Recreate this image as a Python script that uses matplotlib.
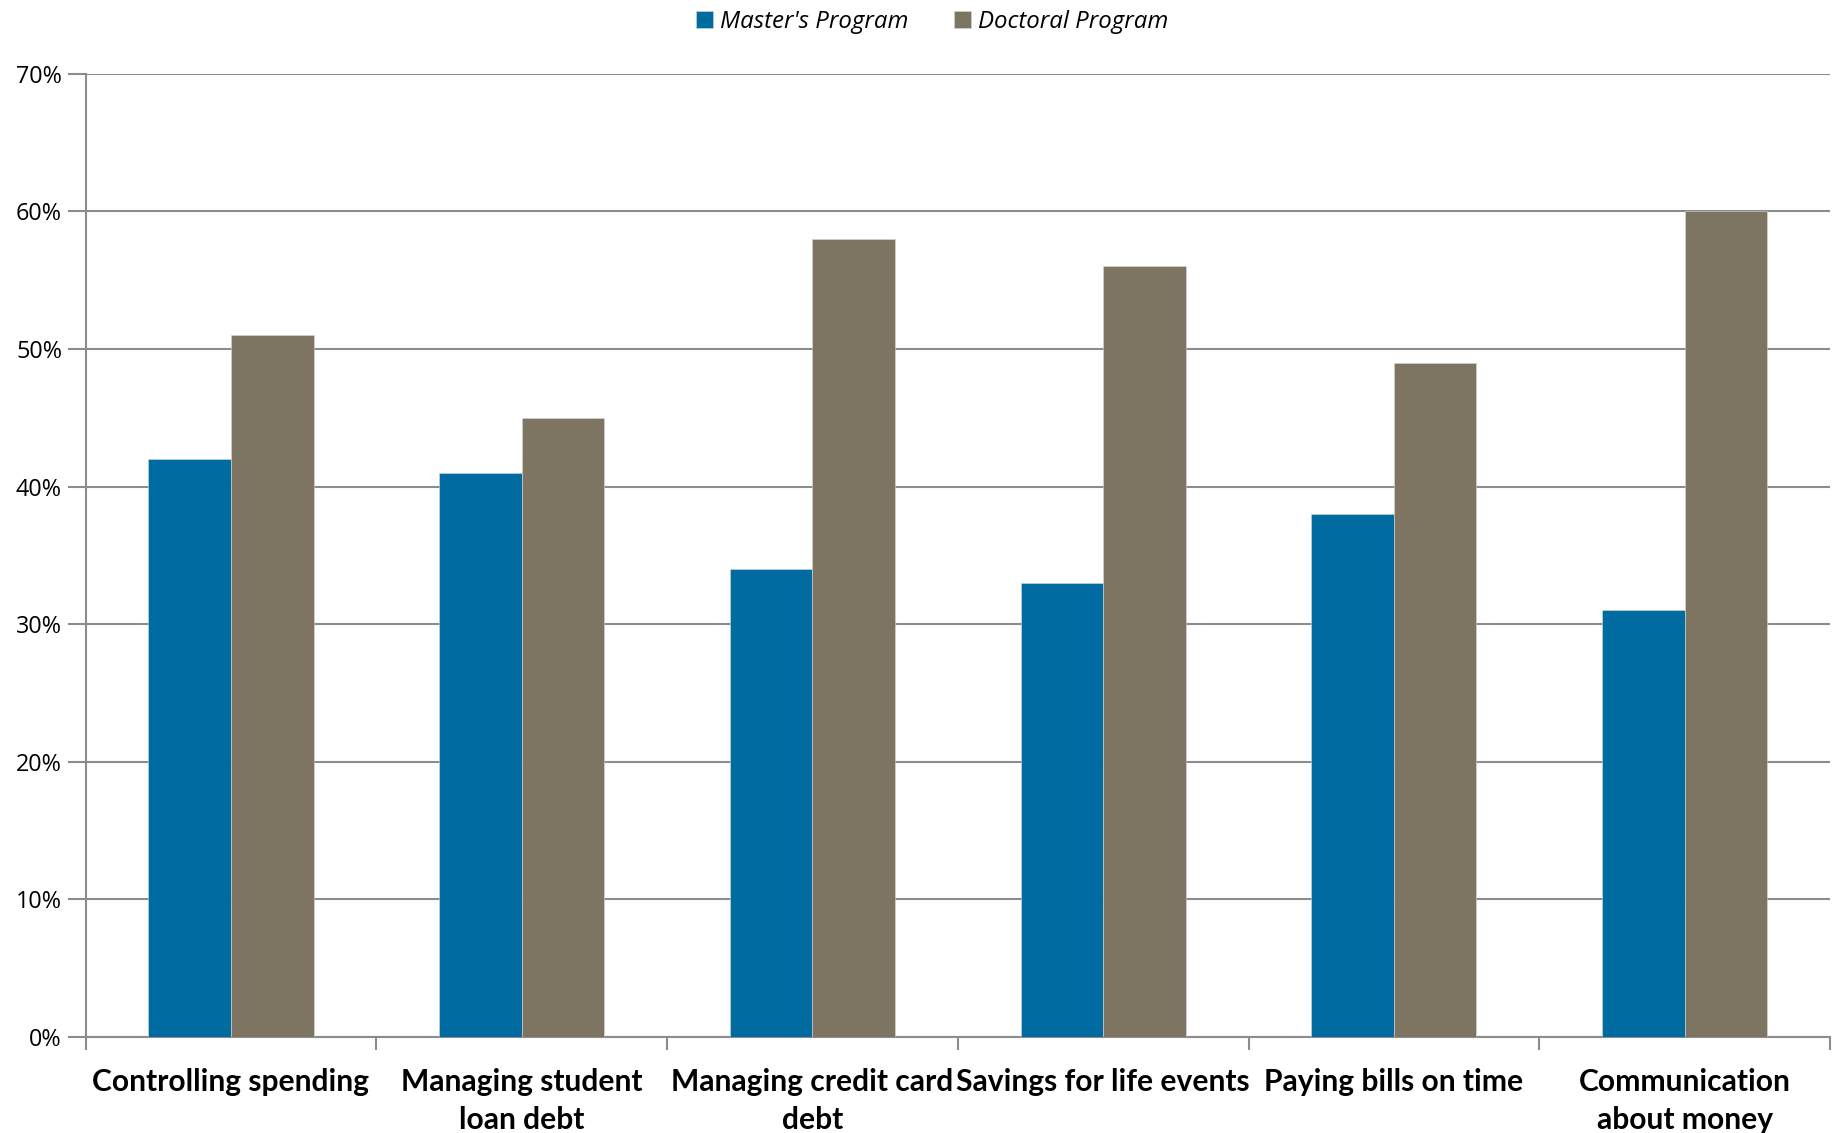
import matplotlib
matplotlib.use("Agg")
import matplotlib.pyplot as plt
import numpy as np
from matplotlib.ticker import PercentFormatter

categories = ["Controlling spending", "Managing student\nloan debt",
              "Managing credit card\ndebt", "Savings for life events",
              "Paying bills on time", "Communication\nabout money"]
masters = [42, 41, 34, 33, 38, 31]
doctoral = [51, 45, 58, 56, 49, 60]
series_names = ["Master's Program", "Doctoral Program"]
yticks = [0, 10, 20, 30, 40, 50, 60, 70]

blue = "#006BA0"
taupe = "#7D7461"
grid_gray = "#8C8C8C"

fig = plt.figure(figsize=(18.37, 11.33), dpi=100)
ax = fig.add_axes([0.0466, 0.0847, 0.9496, 0.8502])

x = np.arange(len(categories))
w = 0.284
ax.bar(x - w / 2, masters, w, color=blue, edgecolor="#d8d8d8", linewidth=0.4,
       label=series_names[0], zorder=3)
ax.bar(x + w / 2, doctoral, w, color=taupe, edgecolor="#d8d8d8", linewidth=0.4,
       label=series_names[1], zorder=3)

ax.set_xlim(-0.5, len(categories) - 0.5)
ax.set_ylim(0, 70)
ax.set_yticks(yticks)
ax.yaxis.set_major_formatter(PercentFormatter(decimals=0))
ax.yaxis.grid(True, color=grid_gray, linewidth=1.5, zorder=0)
ax.set_axisbelow(True)

for s in ["top", "right"]:
    ax.spines[s].set_visible(False)
for s in ["left", "bottom"]:
    ax.spines[s].set_color(grid_gray)
    ax.spines[s].set_linewidth(1.5)

ax.tick_params(axis="y", length=13, width=1.5, color=grid_gray, pad=4,
               labelsize=16.8)
for t in ax.get_yticklabels():
    t.set_fontfamily("Open Sans")

# category boundary ticks, labels centred on groups
ax.set_xticks(np.arange(len(categories) + 1) - 0.5)
ax.set_xticklabels([])
ax.tick_params(axis="x", length=9, width=1.5, color=grid_gray)
ax.set_xticks(x, minor=True)
ax.set_xticklabels(categories, minor=True, fontfamily="Lato", fontweight="bold",
                   fontsize=21.6, linespacing=1.45, va="top")
ax.tick_params(axis="x", which="minor", length=0, pad=22)

ax.legend(loc="center", bbox_to_anchor=(932 / 1837, 1 - 22 / 1133),
          bbox_transform=fig.transFigure, ncol=2, frameon=False,
          prop={"family": "Open Sans", "style": "italic", "size": 17.3},
          handlelength=0.7, handleheight=0.7, handletextpad=0.3,
          columnspacing=1.9)

fig.savefig("out.png", dpi=100)
